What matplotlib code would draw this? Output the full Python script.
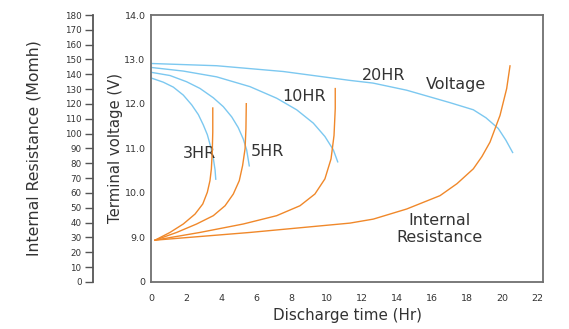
import matplotlib
matplotlib.use("Agg")
import matplotlib.pyplot as plt

# ---- data ----
# Terminal voltage curves (time in Hr, voltage in V)
v3_t = [0.04, 0.70, 1.27, 1.84, 2.32, 2.70, 2.98, 3.21, 3.40, 3.55, 3.65, 3.69]
v3_v = [12.58, 12.49, 12.38, 12.20, 11.98, 11.76, 11.53, 11.31, 11.04, 10.78, 10.52, 10.31]
v5_t = [0.04, 1.08, 2.03, 2.79, 3.55, 4.12, 4.60, 4.97, 5.26, 5.45, 5.60]
v5_v = [12.71, 12.64, 12.50, 12.35, 12.14, 11.94, 11.71, 11.47, 11.21, 10.97, 10.61]
v10_t = [0.04, 1.84, 3.74, 5.64, 7.16, 8.30, 9.25, 9.91, 10.39, 10.64]
v10_v = [12.82, 12.74, 12.61, 12.39, 12.13, 11.87, 11.57, 11.27, 10.97, 10.70]
v20_t = [0.04, 3.74, 7.54, 11.34, 12.65, 14.57, 17.04, 18.37, 19.09, 19.79, 20.22, 20.61]
v20_v = [12.91, 12.86, 12.73, 12.53, 12.47, 12.31, 12.03, 11.87, 11.69, 11.45, 11.19, 10.91]

# Internal resistance curves (time in Hr, resistance in mOhm)
r3_t = [0.23, 1.08, 1.84, 2.51, 2.95, 3.21, 3.36, 3.44, 3.49, 3.52, 3.52]
r3_r = [28.2, 33.4, 39.1, 45.8, 52.6, 60.5, 68.3, 76.3, 87.6, 101.1, 117.3]
r5_t = [0.23, 1.46, 2.60, 3.55, 4.22, 4.69, 5.03, 5.22, 5.36, 5.41, 5.43]
r5_r = [28.2, 33.4, 39.1, 44.7, 51.4, 59.3, 68.3, 78.5, 89.8, 103.3, 120.2]
r10_t = [0.23, 2.79, 5.26, 7.16, 8.49, 9.34, 9.91, 10.26, 10.43, 10.50, 10.50]
r10_r = [28.2, 33.4, 39.1, 44.7, 51.4, 59.3, 69.5, 83.0, 98.8, 116.9, 130.4]
r20_t = [0.23, 5.64, 11.34, 12.67, 14.57, 16.47, 17.44, 18.37, 18.86, 19.32, 19.89, 20.27, 20.46]
r20_r = [28.2, 33.4, 39.7, 42.4, 49.2, 58.2, 66.3, 76.3, 84.6, 94.3, 112.3, 130.4, 145.7]

x_ticks = [0, 2, 4, 6, 8, 10, 12, 14, 16, 18, 20, 22]
v_ticks = [8, 9, 10, 11, 12, 13, 14]
v_tick_labels = ["0", "9.0", "10.0", "11.0", "12.0", "13.0", "14.0"]
r_ticks = list(range(0, 181, 10))

BLUE = "#7cc8f0"
ORANGE = "#f0882a"
TXT = "#333333"
SPINE = "#707070"

fig = plt.figure(figsize=(5.69, 3.29), dpi=100)
ax = fig.add_axes([0.2654, 0.1429, 0.6889, 0.8115])

for t, v in [(v3_t, v3_v), (v5_t, v5_v), (v10_t, v10_v), (v20_t, v20_v)]:
    ax.plot(t, v, color=BLUE, lw=1.0, solid_joinstyle="round")

ax.set_xlim(0, 22.34)
ax.set_ylim(8, 14)
ax.set_xticks(x_ticks)
ax.set_xticklabels([str(x) for x in x_ticks])
ax.set_yticks(v_ticks)
ax.set_yticklabels(v_tick_labels)
ax.tick_params(axis="both", length=0, labelsize=6.8, colors=TXT, pad=4)
ax.tick_params(axis="x", pad=9)
for s in ax.spines.values():
    s.set_color(SPINE)
    s.set_linewidth(1.3)
ax.set_xlabel("Discharge time (Hr)", fontsize=10.9, color=TXT, labelpad=3)
ax.set_ylabel("Terminal voltage (V)", fontsize=10.7, color=TXT, labelpad=1)

# labels
lab_kw = dict(fontsize=11.5, color=TXT, ha="center", va="center")
ax.text(2.74, 10.88, "3HR", **lab_kw)
ax.text(6.64, 10.93, "5HR", **lab_kw)
ax.text(8.75, 12.16, "10HR", **lab_kw)
ax.text(13.28, 12.64, "20HR", **lab_kw)
ax.text(17.4, 12.44, "Voltage", **lab_kw)
ax.text(16.44, 9.19, "Internal\nResistance", linespacing=1.1, **lab_kw)

# resistance axis
ax2 = ax.twinx()
for t, r in [(r3_t, r3_r), (r5_t, r5_r), (r10_t, r10_r), (r20_t, r20_r)]:
    ax2.plot(t, r, color=ORANGE, lw=1.0, solid_joinstyle="round")
ax2.set_ylim(0, 180)
ax2.set_yticks(r_ticks)
ax2.yaxis.set_ticks_position("left")
ax2.yaxis.set_label_position("left")
ax2.spines["left"].set_position(("outward", 42))
for k in ["right", "top", "bottom"]:
    ax2.spines[k].set_visible(False)
ax2.spines["left"].set_color("#555555")
ax2.spines["left"].set_linewidth(1.3)
ax2.tick_params(axis="y", length=6, width=1.0, color="#555555", labelsize=6.3,
                labelcolor=TXT, pad=2)
ax2.set_ylabel("Internal Resistance (Momh)", fontsize=11.3, color=TXT, labelpad=17)

fig.savefig("out.png", dpi=100)
